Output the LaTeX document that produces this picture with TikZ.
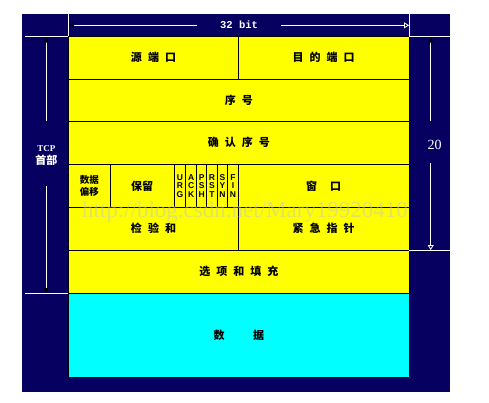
\documentclass[tikz,border=0pt]{standalone}
\usepackage{fontspec}
\setmainfont{Liberation Serif}
\newfontfamily\cjk{Noto Sans CJK SC}
\newfontfamily\flagfont{Liberation Sans}
\newfontfamily\monofont{Liberation Mono}
\usetikzlibrary{arrows.meta}
\definecolor{navy}{RGB}{6,0,96}
\definecolor{yel}{RGB}{255,255,0}
\definecolor{cy}{RGB}{0,255,255}
\newcommand{\gp}{\hspace{0.55em}}
\tikzset{
  cell/.style={draw=black, line width=0.9pt, fill=yel, inner sep=0pt, align=center,
    font=\cjk\bfseries\fontsize{11}{12}\selectfont},
  flag/.style={cell, font=\flagfont\bfseries\fontsize{8.5}{8.6}\selectfont},
  wline/.style={draw=white, line width=0.8pt},
  blacktip/.style={wline, -{Latex[length=5pt,width=5pt,black]}},
  opentip/.style={wline, -{Triangle[open,length=5pt,width=6pt,white]}},
}
\begin{document}
\begin{tikzpicture}[x=1pt,y=-1pt]
\useasboundingbox (0,0) rectangle (489,402);
\fill[white] (0,0) rectangle (489,402);
\fill[navy] (22,14) rectangle (450,392);
% row 1
\node[cell, minimum width=169.6pt, minimum height=42.5pt] (src) at (153.5,57.75) {源\gp 端\gp 口};
\node[cell, minimum width=170.7pt, minimum height=42.5pt] (dst) at (323.65,57.75) {目\gp 的\gp 端\gp 口};
% row 2, 3
\node[cell, minimum width=340.3pt, minimum height=42pt] (seq) at (238.85,100) {序\gp 号};
\node[cell, minimum width=340.3pt, minimum height=43.3pt] (ack) at (238.85,142.65) {确\gp 认\gp 序\gp 号};
% row 4
\node[cell, minimum width=41.3pt, minimum height=43pt, font=\cjk\bfseries\fontsize{9.5}{12}\selectfont] (off) at (89.35,185.8) {数据\\偏移};
\node[cell, minimum width=64.3pt, minimum height=43pt] (rsv) at (142.15,185.8) {保留};
\node[flag, minimum width=11.4pt, minimum height=43pt] (urg) at (180,185.8) {U\\R\\G};
\node[flag, minimum width=11pt, minimum height=43pt] (ackf) at (191.2,185.8) {A\\C\\K};
\node[flag, minimum width=10pt, minimum height=43pt] (psh) at (201.7,185.8) {P\\S\\H};
\node[flag, minimum width=10.6pt, minimum height=43pt] (rst) at (212,185.8) {R\\S\\T};
\node[flag, minimum width=10.4pt, minimum height=43pt] (syn) at (222.5,185.8) {S\\Y\\N};
\node[flag, minimum width=10.6pt, minimum height=43pt] (fin) at (233,185.8) {F\\I\\N};
\node[cell, minimum width=170.7pt, minimum height=43pt] (win) at (323.65,185.8) {窗\hspace{1.2em}口};
% row 5
\node[cell, minimum width=169.6pt, minimum height=42.7pt] (chk) at (153.5,228.65) {检\gp 验\gp 和};
\node[cell, minimum width=170.7pt, minimum height=42.7pt] (uptr) at (323.65,228.65) {紧\gp 急\gp 指\gp 针};
% row 6, 7
\node[cell, minimum width=340.3pt, minimum height=43pt] (opt) at (238.85,271.5) {选\gp 项\gp 和\gp 填\gp 充};
\node[cell, fill=cy, minimum width=340.3pt, minimum height=84.7pt] (data) at (238.85,335.35) {数\hspace{2.6em}据};
% watermark
\node[text=gray!45, opacity=0.5, font=\fontsize{23}{23}\selectfont, inner sep=0pt] (wm) at (245,212) {http://blog.csdn.net/Mary19920410};
% white guide lines
\coordinate (tl) at (68.7,14); \coordinate (tr) at (409,14);
\coordinate (l1) at (25,36.5); \coordinate (r1) at (450,36.5);
\coordinate (l2) at (25,293); \coordinate (r2) at (450,250);
\draw[wline] (tl) -- (tl |- src.north);
\draw[wline] (tr) -- (tr |- dst.north);
\draw[wline] (l1) -- (l1 -| src.west);
\draw[wline] (r1) -- (r1 -| dst.east);
\draw[wline] (l2) -- (l2 -| data.west);
\draw[wline] (r2) -- (r2 -| uptr.east);
% 32 bit arrow
\node[text=white, font=\monofont\bfseries\fontsize{10.5}{10}\selectfont] (bits) at (239,25) {32 bit};
\coordinate (a1) at (197,25.3); \coordinate (a2) at (69,25.3);
\coordinate (a3) at (281,25.3); \coordinate (a4) at (409,25.3);
\draw[blacktip] (a1) -- (a2);
\draw[opentip] (a3) -- (a4);
% left vertical
\node[text=white, align=center, inner sep=0pt, font=\bfseries\fontsize{9}{13}\selectfont] (tcp) at (46.3,156) {TCP\\{\cjk\fontsize{11}{11}\selectfont 首部}};
\coordinate (lv1) at (46.3,121); \coordinate (lv2) at (46.3,37.5);
\coordinate (lv3) at (46.3,186); \coordinate (lv4) at (46.3,293);
\draw[blacktip] (lv1) -- (lv2);
\draw[blacktip] (lv3) -- (lv4);
% right vertical
\node[text=white, inner sep=0pt, font=\fontsize{14}{14}\selectfont] (twenty) at (434.5,145) {20};
\coordinate (rv1) at (430.7,121); \coordinate (rv2) at (430.7,37.5);
\coordinate (rv3) at (430.7,163); \coordinate (rv4) at (430.7,250);
\draw[blacktip] (rv1) -- (rv2);
\draw[opentip] (rv3) -- (rv4);
\end{tikzpicture}
\end{document}
